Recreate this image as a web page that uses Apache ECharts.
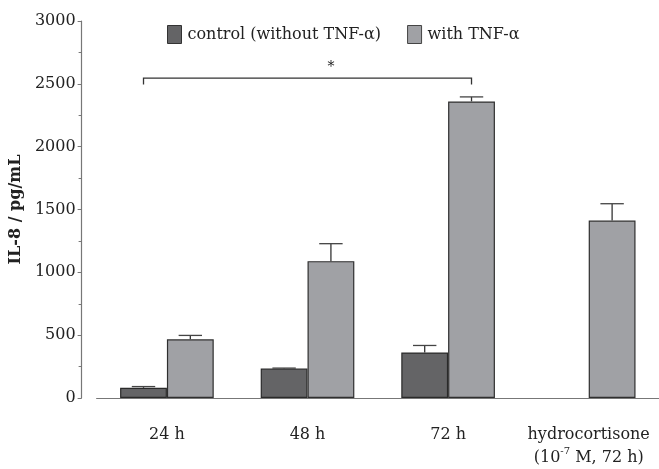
<!DOCTYPE html>
<html>
<head>
<meta charset="utf-8">
<script src="https://cdn.jsdelivr.net/npm/echarts@6/dist/echarts.min.js"></script>
<style>
  html, body { margin: 0; padding: 0; background: #fff; }
  #chart { width: 659px; height: 469px; }
</style>
</head>
<body>
<div id="chart"></div>
<script>
// IL-8 release, pg/mL
const categories = ['24 h', '48 h', '72 h', 'hydrocortisone'];
const controlValues = [81, 234, 362, null];
const controlErrors = [10, 4, 56, null];
const tnfValues = [467, 1089, 2360, 1412];
const tnfErrors = [31, 139, 36, 134];
const yTicks = [0, 500, 1000, 1500, 2000, 2500, 3000];
// significance bracket: from the 24 h control bar to the 72 h TNF bar
const bracket = { from: 0, to: 2, level: 2546, drop: 52, starCategory: 1 };

const FONT = '"DejaVu Serif", "Liberation Serif", serif';
const FS = 16;
const DARK = '#646466';
const LIGHT = '#a0a1a5';
const GAP = 0.334; // share of the band left empty around the bar pair

function halfBar(api) {
  const band = api.size([1, 0])[0];
  return band * (1 - GAP) / 4;
}

function errorSeries(values, errors, side) {
  return {
    type: 'custom',
    name: 'err' + side,
    z: 5,
    silent: true,
    data: values.map((v, i) => (v == null ? null : [i, v, errors[i]])).filter(d => d),
    renderItem: function (params, api) {
      const i = api.value(0), v = api.value(1), e = api.value(2);
      const hb = halfBar(api);
      const base = api.coord([i, v]);
      const top = api.coord([i, v + e]);
      const x = base[0] + side * hb;
      const cap = hb * 0.5;
      return {
        type: 'group',
        children: [
          { type: 'line', shape: { x1: x, y1: base[1], x2: x, y2: top[1] },
            style: { stroke: '#333', lineWidth: 1.3 } },
          { type: 'line', shape: { x1: x - cap, y1: top[1], x2: x + cap, y2: top[1] },
            style: { stroke: '#444', lineWidth: 1.3 } }
        ]
      };
    }
  };
}

const chart = echarts.init(document.getElementById('chart'), null, { renderer: 'canvas' });

chart.setOption({
  animation: false,
  backgroundColor: '#fff',
  textStyle: { fontFamily: FONT },
  legend: {
    left: 167,
    top: 25,
    padding: 0,
    itemWidth: 14,
    itemHeight: 18,
    itemGap: 26,
    icon: 'rect',
    textStyle: { fontFamily: FONT, fontSize: FS, color: '#222', padding: [0, 0, 0, 1] },
    data: [
      { name: 'control (without TNF-α)', itemStyle: { color: DARK, borderColor: '#333', borderWidth: 1 } },
      { name: 'with TNF-α', itemStyle: { color: LIGHT, borderColor: '#444', borderWidth: 1 } }
    ]
  },
  grid: { left: 92.6, width: 573.3, top: 21, bottom: 67, containLabel: false },
  xAxis: {
    type: 'category',
    data: categories,
    offset: 14,
    axisLine: { lineStyle: { color: '#777', width: 1.2 } },
    axisTick: { alignWithLabel: true, length: 4, lineStyle: { color: '#777' } },
    axisLabel: {
      interval: 0,
      margin: 11,
      fontFamily: FONT,
      fontSize: FS,
      color: '#222',
      lineHeight: 23,
      formatter: function (v) {
        if (v === 'hydrocortisone') return '{a|hydrocortisone}\n{a|(10}{s|-7}{a| M, 72 h)}';
        return '{a|' + v + '}';
      },
      rich: {
        a: { fontFamily: FONT, fontSize: FS, color: '#222', lineHeight: 23 },
        s: { fontFamily: FONT, fontSize: 10, color: '#222', verticalAlign: 'top', lineHeight: 23, padding: [0, 0, 8, 0] }
      }
    }
  },
  yAxis: {
    type: 'value',
    min: yTicks[0],
    max: yTicks[yTicks.length - 1],
    interval: yTicks[1] - yTicks[0],
    offset: 15,
    name: 'IL-8 / pg/mL',
    nameLocation: 'middle',
    nameRotate: 90,
    nameGap: 46,
    nameTextStyle: { fontFamily: FONT, fontSize: FS, fontWeight: 'bold', color: '#222' },
    axisLine: { show: true, lineStyle: { color: '#777', width: 1.2 } },
    axisTick: { show: true, length: 4, lineStyle: { color: '#777' } },
    minorTick: { show: true, splitNumber: 2, length: 3, lineStyle: { color: '#777' } },
    splitLine: { show: false },
    axisLabel: { margin: 6, fontFamily: FONT, fontSize: FS, color: '#222', formatter: v => String(v) }
  },
  series: [
    {
      name: 'control (without TNF-α)',
      type: 'bar',
      data: controlValues,
      barGap: '0%',
      barCategoryGap: (GAP * 100) + '%',
      itemStyle: { color: DARK, borderColor: '#2a2a2a', borderWidth: 1.2 }
    },
    {
      name: 'with TNF-α',
      type: 'bar',
      data: tnfValues,
      barGap: '0%',
      barCategoryGap: (GAP * 100) + '%',
      itemStyle: { color: LIGHT, borderColor: '#2f2f2f', borderWidth: 1.2 }
    },
    errorSeries(controlValues, controlErrors, -1),
    errorSeries(tnfValues, tnfErrors, 1),
    {
      type: 'custom',
      name: 'significance',
      silent: true,
      z: 6,
      data: [[bracket.from, bracket.to, bracket.level, bracket.drop, bracket.starCategory]],
      renderItem: function (params, api) {
        const hb = halfBar(api);
        const a = api.coord([api.value(0), api.value(2)]);
        const b = api.coord([api.value(1), api.value(2)]);
        const low = api.coord([api.value(0), api.value(2) - api.value(3)]);
        const star = api.coord([api.value(4), api.value(2)]);
        const x1 = a[0] - hb, x2 = b[0] + hb;
        return {
          type: 'group',
          children: [
            { type: 'polyline',
              shape: { points: [[x1, low[1]], [x1, a[1]], [x2, a[1]], [x2, low[1]]] },
              style: { stroke: '#333', lineWidth: 1.3, fill: null } },
            { type: 'text',
              style: { x: star[0] + hb, y: a[1] - 4, text: '*', fontFamily: FONT, fontSize: 14,
                       fill: '#222', align: 'center', verticalAlign: 'bottom' } }
          ]
        };
      }
    }
  ]
});
</script>
</body>
</html>
